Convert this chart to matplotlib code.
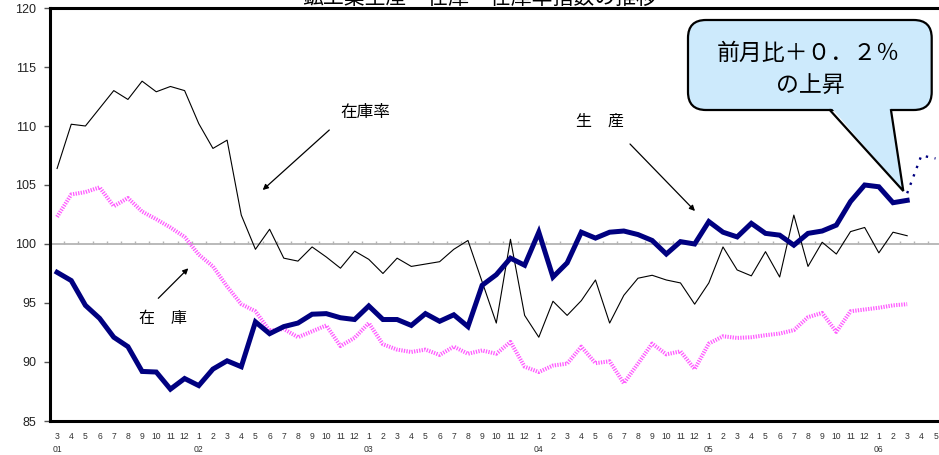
import matplotlib
matplotlib.use("Agg")
import matplotlib.pyplot as plt
import matplotlib.patches as mpatches
import matplotlib.transforms as mtransforms

plt.rcParams['font.family'] = ['Liberation Sans', 'Noto Sans CJK JP', 'DejaVu Sans']

title = "鉱工業生産・在庫・在庫率指数の推移"

# Monthly axis: 2001/3 .. 2006/5
month_labels = [str((2 + k) % 12 + 1) for k in range(63)]
year_labels = {0: "01", 10: "02", 22: "03", 34: "04", 46: "05", 58: "06"}

# Indices (2000 = 100), 2001/3 .. 2006/3
production = [97.6, 96.9, 94.8, 93.7, 92.1, 91.3, 89.2, 89.15, 87.7, 88.6,
              88.0, 89.4, 90.1, 89.6, 93.4, 92.4, 93.0, 93.3, 94.05, 94.1,
              93.75, 93.6, 94.75, 93.6, 93.6, 93.1, 94.1, 93.45, 94.0, 93.0,
              96.5, 97.4, 98.8, 98.2, 101.0, 97.2, 98.4, 101.0, 100.5, 101.0,
              101.1, 100.8, 100.3, 99.15, 100.2, 100.0, 101.9, 101.0, 100.6, 101.75,
              100.9, 100.75, 99.9, 100.9, 101.1, 101.6, 103.6, 105.0, 104.85, 103.5,
              103.7]

inventory = [102.3, 104.2, 104.4, 104.8, 103.2, 103.9, 102.75, 102.1, 101.4, 100.6,
             99.1, 98.1, 96.4, 94.9, 94.3, 92.65, 92.8, 92.1, 92.6, 93.1,
             91.35, 92.05, 93.3, 91.5, 91.05, 90.85, 91.05, 90.6, 91.3, 90.7,
             90.98, 90.7, 91.7, 89.6, 89.15, 89.7, 89.86, 91.3, 89.9, 90.06,
             88.2, 89.86, 91.56, 90.65, 90.9, 89.4, 91.56, 92.18, 92.04, 92.1,
             92.27, 92.41, 92.7, 93.8, 94.16, 92.55, 94.3, 94.45, 94.6, 94.8,
             94.9]

inventory_ratio = [106.4, 110.15, 110.0, 111.5, 113.0, 112.25, 113.8, 112.9, 113.35, 113.0,
                   110.2, 108.1, 108.8, 102.45, 99.55, 101.25, 98.8, 98.55, 99.75, 98.9,
                   97.95, 99.4, 98.7, 97.5, 98.8, 98.1, 98.3, 98.5, 99.55, 100.3,
                   96.8, 93.3, 100.4, 93.95, 92.1, 95.15, 93.95, 95.2, 96.95, 93.3,
                   95.65, 97.1, 97.35, 96.95, 96.7, 94.9, 96.7, 99.75, 97.8, 97.3,
                   99.35, 97.2, 102.45, 98.1, 100.15, 99.15, 101.05, 101.4, 99.25, 101.0,
                   100.7]

# Production forecast, 2006/3 .. 2006/5
forecast_x = [60, 61, 62]
forecast = [104.3, 107.5, 107.25]

W, H = 939, 455
fig = plt.figure(figsize=(W / 100, H / 100), dpi=100)
fig.patch.set_facecolor('white')
# top-left pixel coordinates for decorations
pix = mtransforms.Affine2D().scale(1 / W, -1 / H).translate(0, 1) + fig.transFigure

ax = fig.add_axes([50 / W, (H - 421) / H, (942.6 - 50) / W, (421 - 8) / H])
ax.set_xlim(-0.5, 62.5)
ax.set_ylim(85, 120)

x = list(range(len(production)))

# reference line at 100 with category ticks
ax.axhline(100, color='#b4b4b4', lw=1.3, zorder=1)
ax.vlines([k + 0.5 for k in range(62)], 100, 100.25, color='#b4b4b4', lw=1.0, zorder=1)

ax.plot(x, inventory_ratio, color='black', lw=0.8, zorder=3)
ax.plot(x, inventory, color='#ff5cff', lw=2.9, dashes=(0.32, 0.32), zorder=3,
        solid_capstyle='butt', dash_capstyle='butt')
ax.plot(x, production, color='#000080', lw=3.6, zorder=4, solid_joinstyle='miter')
ax.plot(forecast_x, forecast, color='#000080', lw=1.7, linestyle=(0, (1, 2.8)), zorder=4)

# axes frame
for side in ['left', 'bottom', 'top']:
    ax.spines[side].set_linewidth(2.2)
    ax.spines[side].set_color('black')
ax.spines['right'].set_visible(False)

ax.set_yticks(range(85, 121, 5))
ax.tick_params(axis='y', length=4, width=1, color='#555555', pad=6,
               labelsize=9, labelcolor='#222222')
ax.set_xticks(range(63))
ax.set_xticklabels(month_labels)
ax.tick_params(axis='x', length=0, pad=8, labelsize=6.2, labelcolor='#333333')

ylab_tr = mtransforms.blended_transform_factory(ax.transData, ax.transAxes)
for k, lab in year_labels.items():
    ax.text(k, (421 - 449) / 413, lab, transform=ylab_tr, ha='center', va='center',
            fontsize=6.2, color='#333333')

# title (sits partly above the canvas)
fig.text(480, -2, title, transform=pix, ha='center', va='center', fontsize=15,
         family=['Noto Sans CJK JP'], color='black')

# series labels with arrows
arrow_kw = dict(arrowstyle='-|>', color='black', lw=0.9, mutation_scale=8,
                shrinkA=0, shrinkB=0)
fig.text(365, 113, "在庫率", transform=pix, ha='center', va='center', fontsize=12,
         family=['Noto Sans CJK JP'])
ax.annotate("", xy=(262.7, H - 190), xytext=(329.3, H - 130),
            xycoords='figure pixels', textcoords='figure pixels', arrowprops=arrow_kw)

fig.text(163, 319, "在　庫", transform=pix, ha='center', va='center', fontsize=11.5,
         family=['Noto Sans CJK JP'])
ax.annotate("", xy=(188.3, H - 268.3), xytext=(158.3, H - 298.3),
            xycoords='figure pixels', textcoords='figure pixels', arrowprops=arrow_kw)

fig.text(600, 121, "生　産", transform=pix, ha='center', va='center', fontsize=11.5,
         family=['Noto Sans CJK JP'])
ax.annotate("", xy=(695, H - 211), xytext=(630, H - 144),
            xycoords='figure pixels', textcoords='figure pixels', arrowprops=arrow_kw)

# callout balloon
fill = '#cdeafc'
box = mpatches.FancyBboxPatch((688, 20), 931.7 - 688, 90,
                              boxstyle='round,pad=0,rounding_size=18',
                              transform=pix, facecolor=fill, edgecolor='black', lw=1.6,
                              zorder=10)
fig.add_artist(box)
tail = mpatches.Polygon([(831.5, 108), (903.3, 191), (890.5, 108)], closed=True,
                        transform=pix, facecolor=fill, edgecolor='none', zorder=11)
fig.add_artist(tail)
tail_edge = plt.Line2D([830, 903.3, 891], [110.2, 191, 110.2], transform=pix,
                       color='black', lw=1.6, zorder=12, solid_joinstyle='miter')
fig.add_artist(tail_edge)
fig.text(808, 53, "前月比＋０．２％", transform=pix, ha='center', va='center',
         fontsize=16.5, family=['Noto Sans CJK JP'], zorder=13)
fig.text(810, 85, "の上昇", transform=pix, ha='center', va='center',
         fontsize=16.5, family=['Noto Sans CJK JP'], zorder=13)

fig.savefig("out.png", dpi=100, facecolor='white')
